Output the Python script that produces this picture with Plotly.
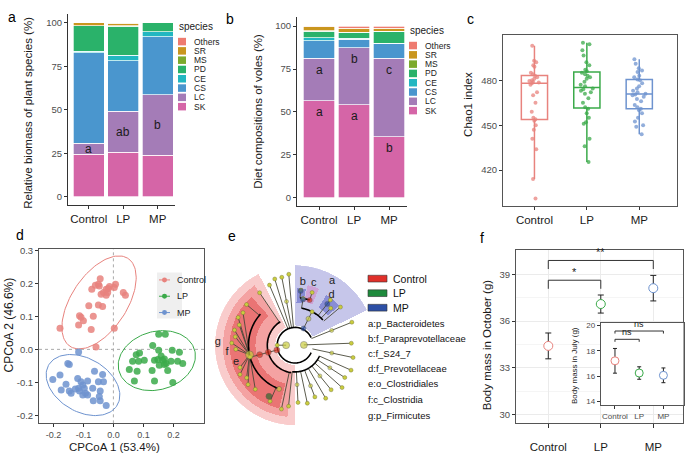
import numpy as np
import plotly.graph_objects as go

W, H = 685, 454
FONT = 'Liberation Sans, Arial, sans-serif'

groups = ['Control', 'LP', 'MP']
group_colors = ['#E8837E', '#3BAA4A', '#6E93CF']

species = ['SK', 'LC', 'CS', 'CE', 'PD', 'MS', 'SR', 'Others']
species_colors = ['#D565A7', '#A47CB7', '#4A96CE', '#22B7C1', '#2AB26A', '#7CAA2C', '#C9961E', '#EE7B70']

# a: relative biomass of plant species (%), same order as species
biomass_control = [24.5, 6.2, 52.0, 1.0, 14.5, 0.1, 1.5, 0.2]
biomass_lp = [25.6, 23.6, 29.0, 3.2, 16.6, 0.1, 1.5, 0.4]
biomass_mp = [24.0, 34.5, 33.4, 2.8, 5.2, 0.0, 0.05, 0.05]
biomass_letters = ['a', 'ab', 'b']

# b: diet compositions of voles (%)
diet_control = [56.6, 24.6, 10.2, 1.7, 4.0, 0.3, 2.1, 0.5]
diet_lp = [54.3, 33.2, 4.8, 0.5, 3.2, 0.3, 2.5, 1.2]
diet_mp = [35.5, 45.7, 8.6, 0.3, 6.8, 0.2, 1.7, 1.2]
diet_letters_sk = ['a', 'a', 'b']
diet_letters_lc = ['a', 'b', 'c']

# c: Chao1 index
chao_control = [503, 493, 492, 490, 489, 485, 484, 483, 482, 481, 480, 479.5, 479, 478.5, 478,
                477, 472, 470, 465, 459, 455, 454, 453, 450, 447, 441, 434, 414, 401]
chao_lp = [505, 504, 500, 496.5, 492, 490, 487, 486, 485, 484, 483, 482, 481, 479, 477, 476,
           474.5, 474, 473, 472, 471, 468, 465, 462, 461, 458, 455, 452, 451, 441, 436, 425.5]
chao_mp = [494, 491, 488, 486.5, 485.5, 483, 482, 480.5, 480, 478, 476, 474.5, 473, 472, 471,
           470.5, 470, 469, 467.5, 466, 463.5, 462, 461, 460, 458, 455, 452.5, 450, 449, 444]

# d: CPCoA scores
pcoa_control_x = [-0.178, -0.116, -0.113, -0.108, -0.100, -0.074, -0.082, -0.067, -0.058, -0.072,
                  -0.060, -0.050, -0.044, -0.047, -0.050, -0.036, -0.033, -0.024, -0.019, -0.017,
                  -0.013, 0.003, 0.007, 0.003, 0.033, 0.040, -0.041, -0.024]
pcoa_control_y = [0.064, 0.074, 0.102, 0.097, 0.087, 0.060, 0.132, 0.100, 0.007, 0.182,
                  0.194, 0.197, 0.214, 0.192, 0.134, 0.130, 0.172, 0.164, 0.172, 0.184,
                  0.190, 0.187, 0.197, 0.064, 0.172, 0.164, 0.167, 0.182]
pcoa_lp_x = [0.151, 0.173, 0.131, 0.087, 0.076, 0.064, 0.053, 0.084, 0.103, 0.070, 0.079, 0.137,
             0.151, 0.159, 0.164, 0.170, 0.153, 0.176, 0.192, 0.196, 0.220, 0.214, 0.231, 0.198,
             0.137, 0.129, 0.148, 0.181, 0.170]
pcoa_lp_y = [0.046, 0.046, 0.012, -0.011, -0.016, -0.036, -0.061, -0.036, -0.033, -0.096, -0.066,
             -0.033, -0.003, -0.020, -0.033, -0.046, -0.048, -0.043, -0.036, -0.003, -0.009, -0.036,
             -0.043, -0.100, -0.096, -0.064, -0.031, -0.064, -0.029]
pcoa_mp_x = [-0.116, -0.152, -0.147, -0.202, -0.178, -0.174, -0.158, -0.147, -0.141, -0.119, -0.116,
             -0.108, -0.102, -0.113, -0.102, -0.093, -0.086, -0.097, -0.086, -0.069, -0.063, -0.050,
             -0.036, -0.033, -0.047, -0.067, -0.044, -0.024, -0.044, -0.127]
pcoa_mp_y = [-0.008, -0.043, -0.046, -0.091, -0.078, -0.123, -0.106, -0.126, -0.133, -0.088, -0.118,
             -0.098, -0.108, -0.126, -0.138, -0.133, -0.138, -0.118, -0.096, -0.118, -0.066, -0.098,
             -0.076, -0.098, -0.143, -0.156, -0.156, -0.170, -0.126, -0.120]

# e: LEfSe cladogram
legend_e = ['Control', 'LP', 'MP']
legend_e_colors = ['#E0302A', '#1E8A3C', '#2C4FA5']
clade_labels = ['a:p_Bacteroidetes', 'b:f_Paraprevotellaceae', 'c:f_S24_7', 'd:f_Prevotellaceae',
                'e:o_Clostridiales', 'f:c_Clostridia', 'g:p_Firmicutes']
sector_names = ['g', 'f', 'e', 'a', 'b', 'c', 'd']
sector_t0 = [117, 124, 132, 26, 79, 67, 42]
sector_t1 = [270, 264, 256, 90, 88, 78, 58]
sector_r0 = [20, 27, 40, 20, 43, 45, 45]
sector_r1 = [81, 73, 66, 81, 58, 62, 60]
sector_colors = ['rgba(240,120,120,0.38)', 'rgba(236,95,95,0.38)', 'rgba(222,60,60,0.45)',
                 'rgba(120,120,205,0.42)', 'rgba(60,70,190,0.45)', 'rgba(215,120,190,0.45)',
                 'rgba(60,70,190,0.45)']
label_r = [78, 69, 62, 75, 64, 65, 63]
label_t = [178, 186, 196, 60, 83, 73, 54]

arc_r = [18, 28, 47, 38, 48, 27]
arc_t0 = [25, 122, 138, 42, 72, -96]
arc_t1 = [335, 262, 248, 80, 84, -24]
radial_t = [195, 124, 140, 246, 258, 95, 101, 107, 113, 180,
            63, 80, 84, 72, 52, 46, 40, 22, 2, -12,
            -24, -33, -42, -51, -60, -69, -78, -87, -96]
radial_r0 = [18, 28, 47, 47, 28, 18, 18, 18, 18, 9,
             18, 38, 48, 48, 38, 38, 38, 18, 9, 18,
             27, 27, 27, 27, 27, 27, 27, 27, 27]
radial_r1 = [47, 64, 64, 62, 66, 72, 70, 70, 66, 18,
             38, 48, 56, 56, 58, 52, 60, 62, 57, 60,
             62, 60, 64, 58, 62, 56, 60, 58, 62]
fan_t = [148, 154, 160, 166, 172, 178, 184, 202, 208, 214, 220, 228]
fan_r = [62, 64, 60, 63, 61, 64, 60, 60, 63, 59, 62, 60]
node_t = [195, 195, 195, 192, 180, 2, 63, 63, 84, 80, 72, 52, 243, 250,
          -33, -51, -69, -87, 22, -12, 101]
node_r = [19, 28, 37, 47, 9, 9, 19, 30, 55, 47, 48, 53, 58, 47,
          42, 40, 44, 40, 40, 38, 45]
node_colors = ['#D7301F', '#D7301F', '#D7301F', '#C9CC3F', '#C9CC3F', '#C9CC3F', '#2B4EA2', '#C9CC3F',
               '#2B4EA2', '#2B4EA2', '#D7301F', '#2B4EA2', '#2E6B2E', '#C9CC3F',
               '#C9CC3F', '#C9CC3F', '#C9CC3F', '#C9CC3F', '#C9CC3F', '#C9CC3F', '#C9CC3F']
node_sizes = [6, 6, 6, 8, 7, 7, 5, 5, 5, 5, 5, 5, 6, 5, 4, 4, 4, 4, 4, 4, 4]

# f: body mass (g)
october_mean = [34.40, 37.09, 38.11]
october_se = [0.83, 0.58, 0.82]
july_mean = [17.21, 16.25, 16.07]
july_se = [0.97, 0.49, 0.58]
october_tests = [('Control', 'LP', '*', 38.62), ('Control', 'MP', '**', 39.89)]
july_tests = [('Control', 'LP', 'ns', 18.90), ('Control', 'MP', 'ns', 19.55)]


def px_x(p):
    return p / W


def px_y(p):
    return 1 - p / H


def dom_x(a, b):
    return [a / W, b / W]


def dom_y(top, bottom):
    return [1 - bottom / H, 1 - top / H]


fig = go.Figure()
annotations = []
shapes = []


def note(text, x, y, size=10, color='#1a1a1a', angle=0, xanchor='center', yanchor='middle', ref=('paper', 'paper')):
    annotations.append(dict(text=text, x=x, y=y, xref=ref[0], yref=ref[1], showarrow=False,
                            textangle=angle, xanchor=xanchor, yanchor=yanchor,
                            font=dict(size=size, color=color, family=FONT)))


# ---- a and b: stacked bars
for ax, cols, in [('', [biomass_control, biomass_lp, biomass_mp]), ('2', [diet_control, diet_lp, diet_mp])]:
    for i, sp in enumerate(species):
        fig.add_trace(go.Bar(x=groups, y=[c[i] for c in cols], width=0.9, showlegend=False,
                             marker=dict(color=species_colors[i], line=dict(color='white', width=0.7)),
                             xaxis='x' + ax, yaxis='y' + ax))

for j, g in enumerate(groups):
    cols = [biomass_control, biomass_lp, biomass_mp][j]
    note(biomass_letters[j], g, cols[0] + cols[1] / 2, size=12, ref=('x', 'y'))
    cols = [diet_control, diet_lp, diet_mp][j]
    note(diet_letters_sk[j], g, cols[0] - 1.5, size=12, yanchor='top', ref=('x2', 'y2'))
    note(diet_letters_lc[j], g, cols[0] + cols[1] - 1.5, size=12, yanchor='top', ref=('x2', 'y2'))


def species_legend(x0, y_title, y_first):
    note('species', px_x(x0 - 1), px_y(y_title), size=10, xanchor='left')
    for k, sp in enumerate(reversed(species)):
        yc = y_first + k * 9.4
        col = species_colors[species.index(sp)]
        shapes.append(dict(type='rect', xref='paper', yref='paper', x0=px_x(x0), x1=px_x(x0 + 8),
                           y0=px_y(yc + 3.8), y1=px_y(yc - 3.8), fillcolor=col, line=dict(width=0)))
        note(sp, px_x(x0 + 14), px_y(yc), size=8.5, xanchor='left', color='#222')


species_legend(178, 23, 38)
species_legend(409, 27, 42)

# ---- c: boxplots
for g, vals, col in zip(groups, [chao_control, chao_lp, chao_mp], group_colors):
    fig.add_trace(go.Box(y=vals, x=[g] * len(vals), name=g, boxpoints='all', jitter=0.55, pointpos=0,
                         width=0.5, whiskerwidth=0, fillcolor='rgba(255,255,255,0)',
                         line=dict(color=col, width=1.5),
                         marker=dict(color=col, size=4, opacity=0.75),
                         showlegend=False, xaxis='x3', yaxis='y3'))

# ---- d: CPCoA scatter + 95% ellipses
pcoa = [(pcoa_control_x, pcoa_control_y), (pcoa_lp_x, pcoa_lp_y), (pcoa_mp_x, pcoa_mp_y)]
for (xs, ys), col in zip(pcoa, group_colors):
    pts = np.column_stack([xs, ys])
    mu = pts.mean(axis=0)
    vals, vecs = np.linalg.eigh(np.cov(pts.T))
    t = np.linspace(0, 2 * np.pi, 120)
    ell = vecs @ (np.sqrt(vals)[:, None] * np.vstack([np.cos(t), np.sin(t)])) * 2.58 + mu[:, None]
    fig.add_trace(go.Scatter(x=ell[0], y=ell[1], mode='lines', line=dict(color=col, width=1),
                             showlegend=False, hoverinfo='skip', xaxis='x4', yaxis='y4'))
    fig.add_trace(go.Scatter(x=xs, y=ys, mode='markers', marker=dict(color=col, size=7, opacity=0.85),
                             showlegend=False, xaxis='x4', yaxis='y4'))
for k in range(2):
    shapes.append(dict(type='line', xref='x4' if k == 0 else 'x4 domain', yref='y4 domain' if k == 0 else 'y4',
                       x0=0, x1=0 if k == 0 else 1, y0=0 if k == 0 else 0, y1=1 if k == 0 else 0,
                       line=dict(color='#AAAAAA', width=1, dash='dot'), layer='below'))
shapes.append(dict(type='rect', xref='paper', yref='paper', x0=px_x(157), x1=px_x(182),
                   y0=px_y(318), y1=px_y(271.5), fillcolor='#EFEFEF', line=dict(width=0), layer='below'))
for k, (g, col) in enumerate(zip(groups, group_colors)):
    yc = 279 + k * 16.5
    shapes.append(dict(type='line', xref='paper', yref='paper', x0=px_x(159), x1=px_x(170),
                       y0=px_y(yc), y1=px_y(yc), line=dict(color=col, width=1)))
    shapes.append(dict(type='circle', xref='paper', yref='paper', x0=px_x(162), x1=px_x(167),
                       y0=px_y(yc + 2.5), y1=px_y(yc - 2.5), fillcolor=col, line=dict(width=0)))
    note(g, px_x(175), px_y(yc), size=9, xanchor='left', color='#222')

# ---- e: cladogram (polar)
for k in range(len(sector_names)):
    fig.add_trace(go.Barpolar(r=[sector_r1[k] - sector_r0[k]], base=[sector_r0[k]],
                              theta=[(sector_t0[k] + sector_t1[k]) / 2],
                              width=[sector_t1[k] - sector_t0[k]],
                              marker=dict(color=sector_colors[k], line=dict(width=0)),
                              showlegend=False, hoverinfo='skip', subplot='polar'))
lr, lt = [], []
for t, r0, r1 in zip(radial_t, radial_r0, radial_r1):
    lr += [r0, r1, None]
    lt += [t, t, None]
for t, r1 in zip(fan_t, fan_r):
    lr += [47, r1, None]
    lt += [192, t, None]
fig.add_trace(go.Scatterpolar(r=lr, theta=lt, mode='lines', line=dict(color='#4a4a3a', width=0.9),
                              showlegend=False, hoverinfo='skip', subplot='polar'))
ar, at = [], []
for r, t0, t1 in zip(arc_r, arc_t0, arc_t1):
    ts = np.linspace(t0, t1, 60)
    ar += [r] * len(ts) + [None]
    at += list(ts) + [None]
fig.add_trace(go.Scatterpolar(r=ar, theta=at, mode='lines', line=dict(color='black', width=1.6),
                              showlegend=False, hoverinfo='skip', subplot='polar'))
fig.add_trace(go.Scatterpolar(r=radial_r1 + fan_r, theta=radial_t + fan_t, mode='markers',
                              marker=dict(color='#C9CC3F', size=4, line=dict(color='#6b6b30', width=0.4)),
                              showlegend=False, hoverinfo='skip', subplot='polar'))
fig.add_trace(go.Scatterpolar(r=node_r, theta=node_t, mode='markers',
                              marker=dict(color=node_colors, size=node_sizes, line=dict(color='#444', width=0.5)),
                              showlegend=False, hoverinfo='skip', subplot='polar'))
fig.add_trace(go.Scatterpolar(r=label_r, theta=label_t, mode='text', text=sector_names,
                              textfont=dict(size=11, color='#222', family=FONT),
                              showlegend=False, hoverinfo='skip', subplot='polar'))

for k, (lab, col) in enumerate(zip(legend_e, legend_e_colors)):
    yc = 277.7 + k * 14.7
    shapes.append(dict(type='rect', xref='paper', yref='paper', x0=px_x(368), x1=px_x(387),
                       y0=px_y(yc + 3.4), y1=px_y(yc - 3.4), fillcolor=col, line=dict(color='#333', width=0.6)))
    note(lab, px_x(391), px_y(yc), size=10.5, xanchor='left', color='#111')
for k, lab in enumerate(clade_labels):
    yc = [323.3, 338, 353.3, 369, 384, 400, 415.7][k]
    note(lab, px_x(366), px_y(yc), size=9.5, xanchor='left', color='#111')

# ---- f: body mass
fig.add_trace(go.Scatter(x=groups, y=october_mean, mode='markers',
                         error_y=dict(type='data', array=october_se, color='#222', thickness=1, width=3),
                         marker=dict(color='white', size=9, line=dict(color=group_colors, width=1)),
                         showlegend=False, xaxis='x5', yaxis='y5'))
fig.add_trace(go.Scatter(x=groups, y=july_mean, mode='markers',
                         error_y=dict(type='data', array=july_se, color='#222', thickness=1, width=2),
                         marker=dict(color='white', size=8, line=dict(color=group_colors, width=1)),
                         showlegend=False, xaxis='x6', yaxis='y6'))
for tests, ax, leg, size in [(october_tests, '5', 0.55, 11), (july_tests, '6', 0.2, 9)]:
    for a, b, lab, top in tests:
        fig.add_trace(go.Scatter(x=[a, a, b, b], y=[top - leg, top, top, top - leg], mode='lines',
                                 line=dict(color='#333', width=1), showlegend=False, hoverinfo='skip',
                                 xaxis='x' + ax, yaxis='y' + ax))
        mid = (groups.index(a) + groups.index(b)) / 2
        note(lab, mid, top, size=size, yanchor='bottom', color='#222', ref=('x' + ax, 'y' + ax))

# ---- panel letters and axis titles
for lab, x, y in [('a', 12, 13), ('b', 230, 15), ('c', 470, 15), ('d', 20, 234), ('e', 232, 235), ('f', 482, 237)]:
    note(lab, px_x(x), px_y(y), size=14, color='black')
note('Relative biomass of plant species (%)', px_x(28), px_y(110), size=11.5, angle=-90)
note('Diet compositions of voles (%)', px_x(258), px_y(109), size=11.5, angle=-90)
note('Chao1 index', px_x(468), px_y(102), size=11.5, angle=-90)
note('CPCoA 2 (46.6%)', px_x(9), px_y(325), size=12, angle=-90)
note('CPCoA 1 (53.4%)', px_x(115), px_y(448), size=11.5)
note('Body mass in October (g)', px_x(487), px_y(345), size=11.5, angle=-90)
note('Body mass in July (g)', px_x(575), px_y(366), size=8, angle=-90)

tickc = '#4D4D4D'
base_ax = dict(showline=True, linecolor='#333', linewidth=1, ticks='outside', ticklen=3, tickcolor='#333',
               showgrid=False, zeroline=False, fixedrange=True)
xcat = dict(base_ax, tickfont=dict(size=11.5, color='#1a1a1a', family=FONT))
ynum = dict(base_ax, tickfont=dict(size=9.5, color=tickc, family=FONT))
boxed = dict(mirror=True, linecolor='#555')

fig.update_layout(
    width=W, height=H, autosize=False, margin=dict(l=0, r=0, t=0, b=0),
    paper_bgcolor='white', plot_bgcolor='white', barmode='stack', boxmode='overlay',
    font=dict(family=FONT), showlegend=False,
    xaxis=dict(xcat, domain=dom_x(68, 175), range=[-0.6, 2.5], anchor='y'),
    yaxis=dict(ynum, domain=dom_y(10, 203), range=[-4.5, 105], tickvals=[0, 25, 50, 75, 100], anchor='x'),
    xaxis2=dict(xcat, domain=dom_x(297, 407), range=[-0.63, 2.51], anchor='y2'),
    yaxis2=dict(ynum, domain=dom_y(13, 204), range=[-4.6, 105.4], tickvals=[0, 25, 50, 75, 100], anchor='x2'),
    xaxis3=dict(xcat, **boxed, domain=dom_x(503, 677), range=[-0.6, 2.72], anchor='y3'),
    yaxis3=dict(ynum, **boxed, domain=dom_y(31.7, 204.3), range=[396, 510], tickvals=[420, 450, 480], anchor='x3'),
    xaxis4=dict(ynum, **boxed, domain=dom_x(39, 204.3), range=[-0.248, 0.303], anchor='y4',
                tickfont=dict(size=9, color=tickc, family=FONT),
                tickvals=[-0.2, -0.1, 0, 0.1, 0.2], ticktext=['-0.2', '-0.1', '0.0', '0.1', '0.2']),
    yaxis4=dict(ynum, **boxed, domain=dom_y(247.7, 424), range=[-0.224, 0.304], anchor='x4',
                tickvals=[-0.2, -0.1, 0, 0.1, 0.2, 0.3], ticktext=['-0.2', '-0.1', '0.0', '0.1', '0.2', '0.3']),
    xaxis5=dict(xcat, **boxed, domain=dom_x(516, 683), range=[-0.615, 2.566], anchor='y5',
                showgrid=True, gridcolor='#EBEBEB', ticklen=4, ticklabelstandoff=10),
    yaxis5=dict(ynum, **boxed, domain=dom_y(248.3, 423.3), range=[29.47, 40.59], anchor='x5',
                tickvals=[30, 33, 36, 39], showgrid=True, gridcolor='#EBEBEB',
                minor=dict(tickvals=[31.5, 34.5, 37.5], showgrid=True, gridcolor='#F5F5F5', ticks='')),
    xaxis6=dict(base_ax, **boxed, domain=dom_x(600.7, 683.5), range=[-0.59, 2.83], anchor='y6',
                tickfont=dict(size=8, color=tickc, family=FONT)),
    yaxis6=dict(base_ax, **boxed, domain=dom_y(322.3, 405.7), range=[13.72, 20.2], anchor='x6',
                tickvals=[14, 16, 18, 20], tickfont=dict(size=8, color=tickc, family=FONT)),
    polar=dict(domain=dict(x=dom_x(214, 376), y=dom_y(264, 426)), bgcolor='rgba(0,0,0,0)',
               radialaxis=dict(visible=False, range=[0, 81]),
               angularaxis=dict(visible=False, rotation=0, direction='counterclockwise')),
    annotations=annotations, shapes=shapes,
)

# the page body keeps its default 8px margin otherwise, which pushes the chart off the window
fig.write_html("out.html", config={'displayModeBar': False},
               post_script="document.body.style.margin='0';")
